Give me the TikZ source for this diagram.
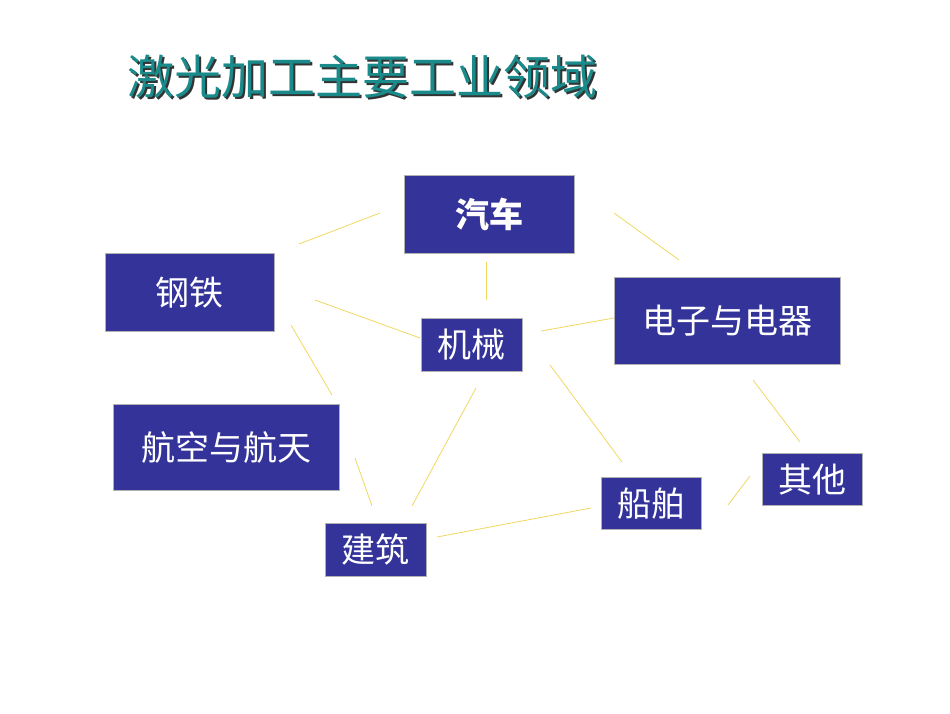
\documentclass[tikz,border=0pt]{standalone}
\usepackage{fontspec}
\newfontfamily\cjk{Noto Sans CJK SC}
\definecolor{boxblue}{HTML}{333399}
\definecolor{titleteal}{HTML}{1A8A8A}
\definecolor{linky}{HTML}{F0D860}
\newcommand{\titletext}{激光加工主要工业领域}
\begin{document}
\begin{tikzpicture}[x=1pt,y=-1pt,
  box/.style={draw=gray!60,fill=boxblue,text=white,font=\cjk\fontsize{34}{34}\selectfont,inner sep=0pt,anchor=north west},
  link/.style={draw=linky,line width=0.8pt}]
\useasboundingbox (0,0) rectangle (950,713);
\node[anchor=west,font=\cjk\fontsize{47}{47}\selectfont,inner sep=0pt] (title) at (127,78)
  {\makebox[0pt][l]{\hspace{2pt}\raisebox{-2pt}{\color{black!80}\titletext}}\textcolor{titleteal}{\titletext}};
\node[box,minimum width=170,minimum height=78,font=\cjk\bfseries\fontsize{34}{34}\selectfont] (qc) at (404,175) {汽车};
\node[box,minimum width=169,minimum height=78] (gt) at (105,253) {钢铁};
\node[box,minimum width=226,minimum height=87] (dz) at (614,277) {电子与电器};
\node[box,minimum width=101,minimum height=53] (jx) at (421,318) {机械};
\node[box,minimum width=226,minimum height=86] (hk) at (113,404) {航空与航天};
\node[box,minimum width=100,minimum height=52] (qt) at (762,453) {其他};
\node[box,minimum width=100,minimum height=52] (cb) at (601,477) {船舶};
\node[box,minimum width=101,minimum height=53] (jz) at (325,523) {建筑};
\foreach \n/\a/\b/\c/\d in {1/299/244/380/213, 2/614/213/679/260, 3/486/262/486/300,
  4/315/300/420/338, 5/541/331/614/318, 6/291/325/332/395, 7/476/388/412/506,
  8/550/365/622/462, 9/753/380/800/442, 10/355/458/372/506, 11/437/537/591/508, 12/750/476/728/505}{
  \coordinate (s\n) at (\a,\b); \coordinate (e\n) at (\c,\d);
  \draw[link] (s\n) -- (e\n);}
\end{tikzpicture}
\end{document}
